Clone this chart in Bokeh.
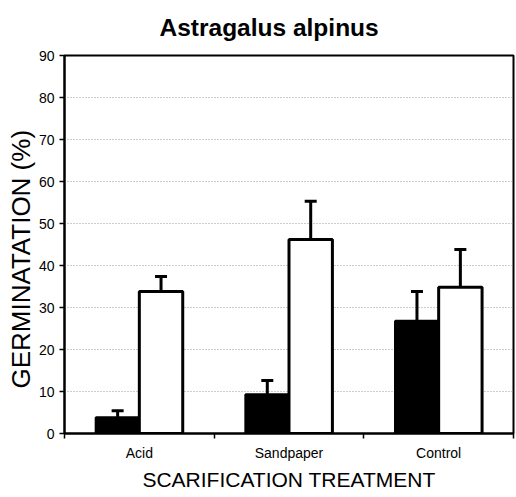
from bokeh.plotting import figure
from bokeh.models import Range1d, FixedTicker, ColumnDataSource, Whisker, TeeHead, Title
from bokeh.embed import file_html
from bokeh.resources import INLINE

# ---- data ----
categories = ["Acid", "Sandpaper", "Control"]
black_mean = [3.8, 9.3, 26.8]
black_err = [1.6, 3.3, 7.0]
white_mean = [33.8, 46.2, 34.8]
white_err = [3.6, 9.1, 9.0]
y_ticks = [0, 10, 20, 30, 40, 50, 60, 70, 80, 90]
title_text = "Astragalus alpinus"
y_label = "GERMINATATION (%)"
x_label = "SCARIFICATION TREATMENT"

FONT = "Liberation Sans"
BAR_W = 0.29

pos = [i + 0.5 for i in range(len(categories))]
bx = [p_ - BAR_W / 2 for p_ in pos]
wx = [p_ + BAR_W / 2 for p_ in pos]

src_b = ColumnDataSource(dict(x=bx, top=black_mean,
                              upper=[m + e for m, e in zip(black_mean, black_err)]))
src_w = ColumnDataSource(dict(x=wx, top=white_mean,
                              upper=[m + e for m, e in zip(white_mean, white_err)]))

p = figure(width=516, height=497, output_backend="svg", toolbar_location=None,
           x_range=Range1d(0, 3), y_range=Range1d(0, 90),
           min_border_left=64, min_border_right=3, min_border_top=55,
           min_border_bottom=64)

p.title.text = title_text
p.title.text_font = FONT
p.title.text_font_size = "24.5px"
p.title.text_font_style = "bold"
p.title.align = "left"
p.title.offset = 95
p.title.vertical_align = "top"
p.title.standoff = 26
p.title.text_color = "black"

p.outline_line_color = "black"
p.outline_line_width = 2
p.background_fill_color = "white"
p.border_fill_color = "white"

# grid
p.xgrid.visible = False
p.ygrid.ticker = FixedTicker(ticks=[10, 20, 30, 40, 50, 60, 70, 80])
p.ygrid.grid_line_color = "#999999"
p.ygrid.grid_line_dash = "1 2"
p.ygrid.grid_line_width = 1

# y axis
p.yaxis.ticker = FixedTicker(ticks=y_ticks)
p.yaxis.major_label_text_font = FONT
p.yaxis.major_label_text_font_size = "14px"
p.yaxis.major_label_text_color = "black"
p.yaxis.major_label_standoff = 5
p.yaxis.major_tick_out = 5
p.yaxis.major_tick_in = 0
p.yaxis.major_tick_line_width = 1.5
p.yaxis.minor_tick_line_color = None
p.yaxis.axis_line_width = 2
p.yaxis.axis_line_color = "black"

# y label as a side title (lets it sit a little below the frame centre, as in the original)
p.add_layout(Title(text=y_label, text_font=FONT, text_font_size="26px",
                   text_font_style="normal", text_color="black",
                   align="left", offset=45, vertical_align="bottom",
                   standoff=0), "left")

# x axis
p.xaxis.ticker = FixedTicker(ticks=pos, minor_ticks=[0, 1, 2, 3])
p.xaxis.major_label_overrides = {v: c for v, c in zip(pos, categories)}
p.xaxis.axis_label = x_label
p.xaxis.axis_label_text_font = FONT
p.xaxis.axis_label_text_font_size = "21px"
p.xaxis.axis_label_text_font_style = "normal"
p.xaxis.axis_label_text_color = "black"
p.xaxis.axis_label_standoff = 4
p.xaxis.major_label_text_font = FONT
p.xaxis.major_label_text_font_size = "14px"
p.xaxis.major_label_text_color = "black"
p.xaxis.major_label_standoff = 6
p.xaxis.major_tick_out = 0
p.xaxis.major_tick_in = 0
p.xaxis.minor_tick_out = 5
p.xaxis.minor_tick_in = 0
p.xaxis.minor_tick_line_width = 1.5
p.xaxis.minor_tick_line_color = "black"
p.xaxis.axis_line_width = 2
p.xaxis.axis_line_color = "black"

# bars
p.vbar(x="x", top="top", bottom=0, width=BAR_W, source=src_b,
       fill_color="black", line_color="black", line_width=2.5)
p.vbar(x="x", top="top", bottom=0, width=BAR_W, source=src_w,
       fill_color="white", line_color="black", line_width=3)

# error bars (upper only)
for src in (src_b, src_w):
    w = Whisker(base="x", lower="top", upper="upper", source=src,
                dimension="height", line_color="black", line_width=3,
                upper_head=TeeHead(size=12, line_width=3, line_color="black"),
                lower_head=None)
    p.add_layout(w)

open("out.html", "w").write(file_html(p, INLINE))
